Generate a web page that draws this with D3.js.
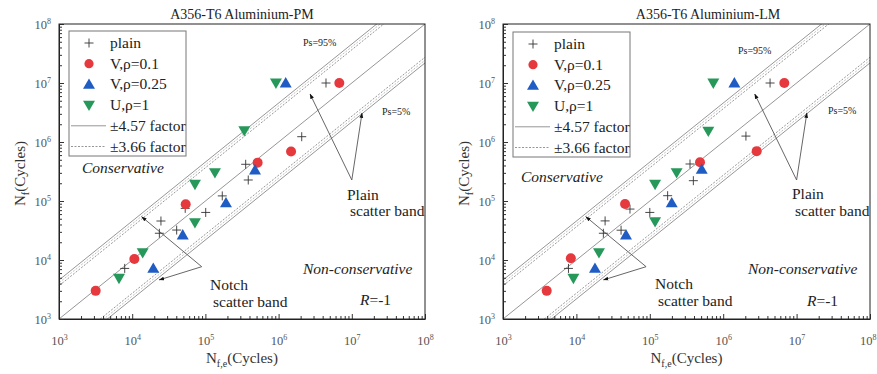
<!DOCTYPE html>
<html>
<head>
<meta charset="utf-8">
<script src="https://cdn.jsdelivr.net/npm/d3@7/dist/d3.min.js"></script>
<style>
  body { margin: 0; background: #fff; }
  svg { display: block; }
  svg text { font-family: "Liberation Serif", "Times New Roman", Times, serif; }
</style>
</head>
<body>
<div id="chart"></div>
<script>
// ---- data (Nf,e , Nf) ----
const pmPlain = [[7.9e3, 7.2e3], [2.35e4, 2.84e4], [2.47e4, 4.58e4], [4.05e4, 3.22e4], [5.3e4, 7.5e4],
  [1.01e5, 6.4e4], [1.7e5, 1.22e5], [3.55e5, 4.19e5], [3.85e5, 2.27e5], [2.07e6, 1.23e6], [4.44e6, 1e7]];
const pmV01 = [[3.17e3, 3.0e3], [1.07e4, 1.04e4], [5.38e4, 8.8e4], [5.17e5, 4.47e5], [1.48e6, 6.9e5], [6.75e6, 1e7]];
const pmV025 = [[1.94e4, 7.2e3], [4.9e4, 2.65e4], [1.91e5, 9.3e4], [4.76e5, 3.35e5], [1.25e6, 1e7]];
const pmU1 = [[6.6e3, 4.9e3], [1.39e4, 1.33e4], [7.2e4, 4.29e4], [7.2e4, 1.92e5], [1.35e5, 3.02e5],
  [3.4e5, 1.56e6], [9.2e5, 1e7]];

const lmPlain = [[7.8e3, 7.2e3], [2.33e4, 2.84e4], [2.46e4, 4.6e4], [4.06e4, 3.2e4], [5.37e4, 7.3e4],
  [1.0e5, 6.4e4], [1.75e5, 1.23e5], [3.53e5, 4.24e5], [3.92e5, 2.21e5], [2.04e6, 1.26e6], [4.35e6, 1e7]];
const lmV01 = [[3.94e3, 3.0e3], [8.4e3, 1.07e4], [4.6e4, 8.9e4], [4.83e5, 4.53e5], [2.86e6, 7.0e5], [6.8e6, 1e7]];
const lmV025 = [[1.79e4, 7.2e3], [4.74e4, 2.65e4], [1.99e5, 9.3e4], [5.1e5, 3.44e5], [1.42e6, 1e7]];
const lmU1 = [[9.1e3, 4.9e3], [2.03e4, 1.33e4], [1.18e5, 4.46e4], [1.18e5, 1.92e5], [2.32e5, 3.02e5],
  [6.27e5, 1.53e6], [7.33e5, 1e7]];

const seriesNames = ["plain", "V,ρ=0.1", "V,ρ=0.25", "U,ρ=1"];
const bandNames = ["±4.57 factor", "±3.66 factor"];
const solidFactors = [1, 4.57, 1 / 4.57];
const innerFactors = [4.1, 1 / 4.1];
const dottedFactors = [3.66, 1 / 3.66];
const decades = [1e3, 1e4, 1e5, 1e6, 1e7, 1e8];

// arrows: [from, to] in data units
const plainArrows = [[[1e7, 2.27e5], [2.69e6, 6.5e6]], [[1e7, 2.27e5], [1.38e7, 3.1e6]]];
const notchArrows = [[[8.9e4, 7.7e3], [1.35e4, 5.4e4]], [[8.9e4, 7.7e3], [2.34e4, 4.6e3]]];

const colors = { red: "#e5393e", blue: "#1f5cc4", green: "#26995a", line: "#8a8a8a" };
const FONT = '"Liberation Serif", "Times New Roman", Times, serif';

const W = 877, H = 374;
const svg = d3.select("#chart").append("svg").attr("width", W).attr("height", H)
  .attr("font-family", FONT);

const defs = svg.append("defs");
defs.append("marker").attr("id", "arrowhead").attr("viewBox", "0 0 10 10")
  .attr("refX", 9).attr("refY", 5).attr("markerWidth", 6).attr("markerHeight", 6)
  .attr("orient", "auto-start-reverse")
  .append("path").attr("d", "M0,1.5 L10,5 L0,8.5 z").attr("fill", "#111");

const panels = [
  {
    title: "A356-T6 Aluminium-PM", left: 59, right: 425, titleX: 242,
    plain: pmPlain, v01: pmV01, v025: pmV025, u1: pmU1,
    labels: { ps95: [244, 22], ps5: [323, 91], plain: [288, 176], plainB: [291, 192],
      notch: [151, 266], notchB: [154, 283], cons: [23, 149], non: [244, 250], r: [301, 281] },
    legend: [10, 7]
  },
  {
    title: "A356-T6 Aluminium-LM", left: 503, right: 870, titleX: 708,
    plain: lmPlain, v01: lmV01, v025: lmV025, u1: lmU1,
    labels: { ps95: [235, 30], ps5: [325, 90], plain: [289, 175], plainB: [292, 192],
      notch: [152, 265], notchB: [155, 282], cons: [18, 158], non: [245, 250], r: [304, 282] },
    legend: [10, 8]
  }
];
const plotTop = 24, plotBottom = 319;

function drawPanel(p, idx) {
  const w = p.right - p.left, h = plotBottom - plotTop;
  const x = d3.scaleLog().domain([1e3, 1e8]).range([0, w]);
  const y = d3.scaleLog().domain([1e3, 1e8]).range([h, 0]);
  const g = svg.append("g").attr("transform", `translate(${p.left},${plotTop})`);

  g.append("clipPath").attr("id", "clip" + idx)
    .append("rect").attr("width", w).attr("height", h);

  // title
  svg.append("text").attr("x", p.titleX).attr("y", 19).attr("text-anchor", "middle")
    .attr("font-size", 14).attr("fill", "#222").text(p.title);

  // scatter band lines
  const lines = g.append("g").attr("clip-path", `url(#clip${idx})`);
  const diag = (f) => [[1e2, 1e2 * f], [1e9, 1e9 * f]];
  const lineGen = d3.line().x(d => x(d[0])).y(d => y(d[1]));
  solidFactors.forEach(f => lines.append("path").attr("d", lineGen(diag(f)))
    .attr("fill", "none").attr("stroke", colors.line).attr("stroke-width", 0.9));
  innerFactors.forEach(f => lines.append("path").attr("d", lineGen(diag(f)))
    .attr("fill", "none").attr("stroke", "#b0b0b0").attr("stroke-width", 0.8)
    .attr("stroke-dasharray", "2,1.5"));
  dottedFactors.forEach(f => lines.append("path").attr("d", lineGen(diag(f)))
    .attr("fill", "none").attr("stroke", colors.line).attr("stroke-width", 0.9)
    .attr("stroke-dasharray", "2,1.5"));

  // arrows
  plainArrows.concat(notchArrows).forEach(a => {
    g.append("line")
      .attr("x1", x(a[0][0])).attr("y1", y(a[0][1]))
      .attr("x2", x(a[1][0])).attr("y2", y(a[1][1]))
      .attr("stroke", "#555").attr("stroke-width", 0.9)
      .attr("marker-end", "url(#arrowhead)");
  });

  // axes with inward ticks
  const minors = [];
  decades.slice(0, -1).forEach(d => { for (let k = 2; k < 10; k++) minors.push(d * k); });

  const xAx = g.append("g").attr("transform", `translate(0,${h})`)
    .call(d3.axisBottom(x).tickValues(decades).tickSize(-5).tickSizeOuter(0).tickFormat(""));
  g.append("g").attr("transform", `translate(0,${h})`)
    .call(d3.axisBottom(x).tickValues(minors).tickSize(-3).tickSizeOuter(0).tickFormat(""))
    .select(".domain").remove();
  const yAx = g.append("g")
    .call(d3.axisLeft(y).tickValues(decades).tickSize(-5).tickSizeOuter(0).tickFormat(""));
  g.append("g")
    .call(d3.axisLeft(y).tickValues(minors).tickSize(-3).tickSizeOuter(0).tickFormat(""))
    .select(".domain").remove();
  g.selectAll(".tick line").attr("stroke", "#333");
  g.selectAll(".domain").attr("stroke", "#222");
  g.selectAll("g").attr("font-family", FONT);

  const sup = (sel, v) => {
    sel.append("tspan").text("10");
    sel.append("tspan").attr("dy", -5).attr("font-size", 8).text(Math.round(Math.log10(v)));
  };
  // keep the last bottom label inside the window
  const room = W - p.right;
  xAx.selectAll(".tick").append("text").attr("y", 26)
    .attr("text-anchor", (d, i) => (i === decades.length - 1 && room < 12) ? "end" : "middle")
    .attr("x", (d, i) => (i === decades.length - 1 && room < 12) ? room - 1 : 0)
    .attr("fill", "#555").attr("font-size", 12.5)
    .each(function (d) { sup(d3.select(this), d); });
  yAx.selectAll(".tick").append("text").attr("x", -8).attr("dy", "0.35em")
    .attr("text-anchor", "end").attr("fill", "#555").attr("font-size", 12.5)
    .each(function (d) { sup(d3.select(this), d); });

  // frame
  g.append("rect").attr("width", w).attr("height", h)
    .attr("fill", "none").attr("stroke", "#222").attr("stroke-width", 1);

  // axis titles
  const yt = svg.append("text").attr("transform", `translate(${p.left - 34},${plotTop + h / 2 + 2}) rotate(-90)`)
    .attr("text-anchor", "middle").attr("font-size", 15).attr("fill", "#333");
  yt.append("tspan").text("N");
  yt.append("tspan").attr("dy", 4).attr("font-size", 10).text("f");
  yt.append("tspan").attr("dy", -4).text("(Cycles)");
  const xt = svg.append("text").attr("x", p.left + w / 2).attr("y", 363)
    .attr("text-anchor", "middle").attr("font-size", 15).attr("fill", "#333");
  xt.append("tspan").text("N");
  xt.append("tspan").attr("dy", 4).attr("font-size", 10).text("f,e");
  xt.append("tspan").attr("dy", -4).text("(Cycles)");

  // markers
  const plus = (sel) => sel.append("path").attr("d", "M-4.5,0H4.5M0,-4.5V4.5")
    .attr("stroke", "#333").attr("stroke-width", 0.9).attr("fill", "none");
  const tri = d3.symbol(d3.symbolTriangle, 62);
  const pts = g.append("g");
  pts.selectAll(".pl").data(p.plain).join("g").attr("class", "pl")
    .attr("transform", d => `translate(${x(d[0])},${y(d[1])})`).call(plus);
  pts.selectAll(".v1").data(p.v01).join("circle").attr("class", "v1")
    .attr("cx", d => x(d[0])).attr("cy", d => y(d[1])).attr("r", 5).attr("fill", colors.red);
  pts.selectAll(".v2").data(p.v025).join("path").attr("class", "v2")
    .attr("transform", d => `translate(${x(d[0])},${y(d[1]) + 1})`).attr("d", tri).attr("fill", colors.blue);
  pts.selectAll(".u1").data(p.u1).join("path").attr("class", "u1")
    .attr("transform", d => `translate(${x(d[0])},${y(d[1]) - 1}) rotate(180)`).attr("d", tri).attr("fill", colors.green);

  // annotations
  const L = p.labels;
  const txt = (pos, s, size, italic) => g.append("text").attr("x", pos[0]).attr("y", pos[1])
    .attr("font-size", size).attr("fill", "#222").attr("font-style", italic ? "italic" : null).text(s);
  txt(L.ps95, "Ps=95%", 10);
  txt(L.ps5, "Ps=5%", 10);
  txt(L.plain, "Plain", 15.5);
  txt(L.plainB, "scatter band", 15.5);
  txt(L.notch, "Notch", 15.5);
  txt(L.notchB, "scatter band", 15.5);
  txt(L.cons, "Conservative", 15.5, true);
  txt(L.non, "Non-conservative", 15.5, true);
  const rt = g.append("text").attr("x", L.r[0]).attr("y", L.r[1]).attr("font-size", 15.5).attr("fill", "#222");
  rt.append("tspan").attr("font-style", "italic").text("R");
  rt.append("tspan").text("=-1");

  // legend
  const lg = g.append("g").attr("transform", `translate(${p.legend[0]},${p.legend[1]})`);
  lg.append("rect").attr("width", 117).attr("height", 125)
    .attr("fill", "#fff").attr("stroke", "#777").attr("stroke-width", 1);
  const rowY = (i) => 12 + i * 20.7;
  const ent = lg.selectAll(".ent").data(seriesNames.concat(bandNames)).join("g")
    .attr("transform", (d, i) => `translate(0,${rowY(i)})`);
  ent.append("text").attr("x", 41).attr("y", 5).attr("font-size", 15.5).attr("fill", "#222").text(d => d);
  ent.each(function (d, i) {
    const e = d3.select(this);
    const s = e.append("g").attr("transform", "translate(20,0)");
    if (i === 0) plus(s);
    else if (i === 1) s.append("circle").attr("r", 4.6).attr("fill", colors.red);
    else if (i === 2) s.append("path").attr("d", tri).attr("transform", "translate(0,1)").attr("fill", colors.blue);
    else if (i === 3) s.append("path").attr("d", tri).attr("transform", "translate(0,-1) rotate(180)").attr("fill", colors.green);
    else e.append("line").attr("x1", 2).attr("x2", 37).attr("stroke", colors.line).attr("stroke-width", 0.9)
      .attr("stroke-dasharray", i === 5 ? "2,1.5" : null);
  });
}

panels.forEach(drawPanel);
</script>
</body>
</html>
